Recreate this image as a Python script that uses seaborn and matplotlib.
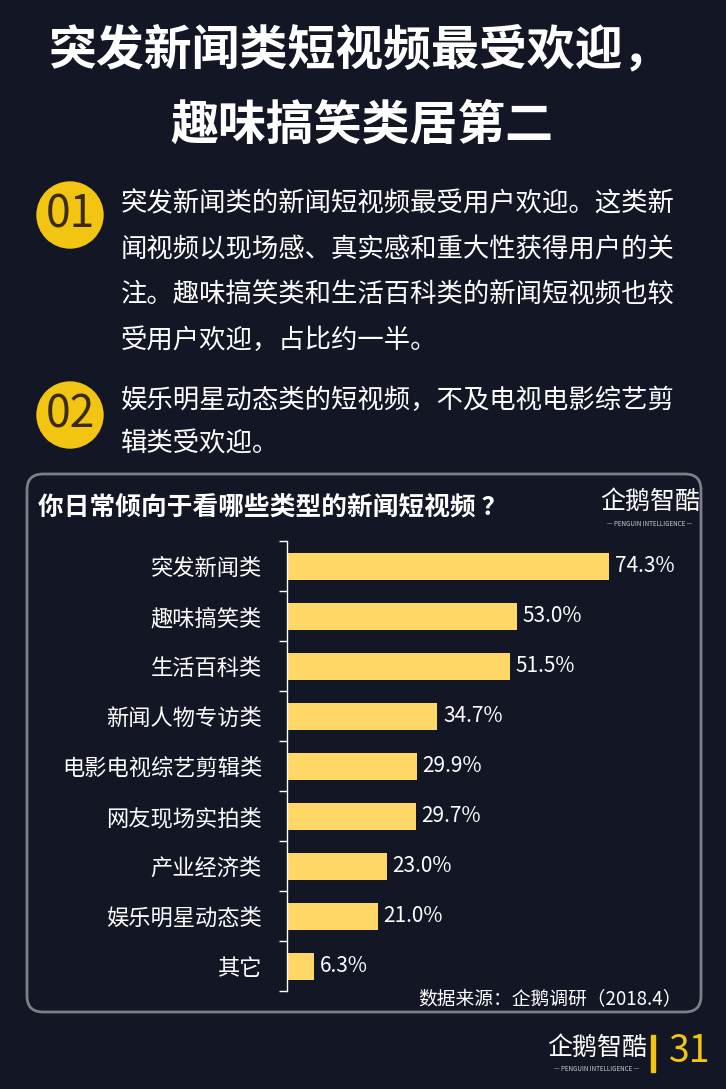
import matplotlib
matplotlib.use("Agg")
import matplotlib.pyplot as plt
import seaborn as sns
from matplotlib.patches import Circle, FancyBboxPatch, Rectangle

# chart data
categories = ["突发新闻类", "趣味搞笑类", "生活百科类", "新闻人物专访类", "电影电视综艺剪辑类",
              "网友现场实拍类", "产业经济类", "娱乐明星动态类", "其它"]
shares = [74.3, 53.0, 51.5, 34.7, 29.9, 29.7, 23.0, 21.0, 6.3]

# page text
title_lines = ["突发新闻类短视频最受欢迎，", "趣味搞笑类居第二"]
point1_lines = ["突发新闻类的新闻短视频最受用户欢迎。这类新",
                "闻视频以现场感、真实感和重大性获得用户的关",
                "注。趣味搞笑类和生活百科类的新闻短视频也较",
                "受用户欢迎，占比约一半。"]
point2_lines = ["娱乐明星动态类的短视频，不及电视电影综艺剪",
                "辑类受欢迎。"]
chart_title = "你日常倾向于看哪些类型的新闻短视频 ？"
source_note = "数据来源：企鹅调研（2018.4）"
brand = "企鹅智酷"
brand_en = "— PENGUIN INTELLIGENCE —"
page_no = "31"

BG = "#131624"
BAR = "#FED766"
GOLD = "#F2C512"

sns.set_theme(style="dark", rc={"axes.facecolor": BG, "figure.facecolor": BG})
plt.rcParams["font.family"] = ["Noto Sans CJK SC", "DejaVu Sans"]

fig = plt.figure(figsize=(7.26, 10.89), dpi=100)

# full-page layer in pixel coordinates
bg = fig.add_axes([0, 0, 1, 1])
bg.set_xlim(0, 726)
bg.set_ylim(1089, 0)
bg.axis("off")

bg.text(360, 50, title_lines[0], ha="center", va="center", color="white",
        fontsize=34.5, fontweight="bold")
bg.text(362, 125, title_lines[1], ha="center", va="center", color="white",
        fontsize=34.5, fontweight="bold")

for cy, label in [(215, "01"), (415, "02")]:
    bg.add_patch(Circle((70, cy), 33, color=GOLD))
    bg.text(70, cy, label, ha="center", va="center", color="#3b2a0c",
            fontsize=32, fontweight="light")

for i, line in enumerate(point1_lines):
    bg.text(121, 204 + i * 45.5, line, ha="left", va="center", color="white",
            fontsize=19, fontweight="light")
for i, line in enumerate(point2_lines):
    bg.text(121, 400 + i * 44, line, ha="left", va="center", color="white",
            fontsize=19, fontweight="light")

# chart frame
bg.add_patch(FancyBboxPatch((27, 474), 674, 538,
                            boxstyle="round,pad=0,rounding_size=16",
                            fc="none", ec="#7c7f88", lw=2))
bg.text(38, 507, chart_title, ha="left", va="center", color="white",
        fontsize=18.5, fontweight="bold")
bg.text(650, 502, brand, ha="center", va="center", color="white",
        fontsize=18, fontweight="light")
bg.text(650, 524, brand_en, ha="center", va="center", color="#cfd0d4",
        fontsize=4.5)
bg.text(682, 1000, source_note, ha="right", va="center", color="white",
        fontsize=13.5)

# footer
bg.text(597, 1048, brand, ha="center", va="center", color="white",
        fontsize=18, fontweight="light")
bg.text(597, 1069, brand_en, ha="center", va="center", color="#cfd0d4",
        fontsize=4.5)
bg.add_patch(Rectangle((651, 1035), 4, 37, color=GOLD))
bg.text(690, 1052, page_no, ha="center", va="center", color=GOLD,
        fontsize=27)

# bar chart
ax = fig.add_axes([287 / 726, (1089 - 991) / 1089, (690 - 287) / 726, 450 / 1089])
ax.set_facecolor("none")
sns.barplot(x=shares, y=categories, orient="h", color=BAR, saturation=1,
            width=0.54, linewidth=0, ax=ax)
ax.set_xlim(0, 93)
ax.set_ylim(len(categories) - 0.5, -0.5)
ax.bar_label(ax.containers[0], labels=[f"{v:.1f}%" for v in shares],
             padding=4, color="white", fontsize=15, fontweight="light")

for side in ["top", "right", "bottom"]:
    ax.spines[side].set_visible(False)
ax.spines["left"].set_color("white")
ax.spines["left"].set_linewidth(1)
ax.grid(False)
ax.set_xticks([])
ax.set_xlabel("")
ax.set_ylabel("")
ax.tick_params(axis="y", which="major", length=0, pad=18, labelsize=16,
               labelcolor="white")
ax.set_yticks([i - 0.5 for i in range(len(categories) + 1)], minor=True)
ax.tick_params(axis="y", which="minor", left=True, length=6, width=1,
               color="white", direction="out")
for lbl in ax.get_yticklabels():
    lbl.set_fontweight("light")

fig.savefig("out.png", dpi=100, facecolor=BG)
plt.close(fig)
